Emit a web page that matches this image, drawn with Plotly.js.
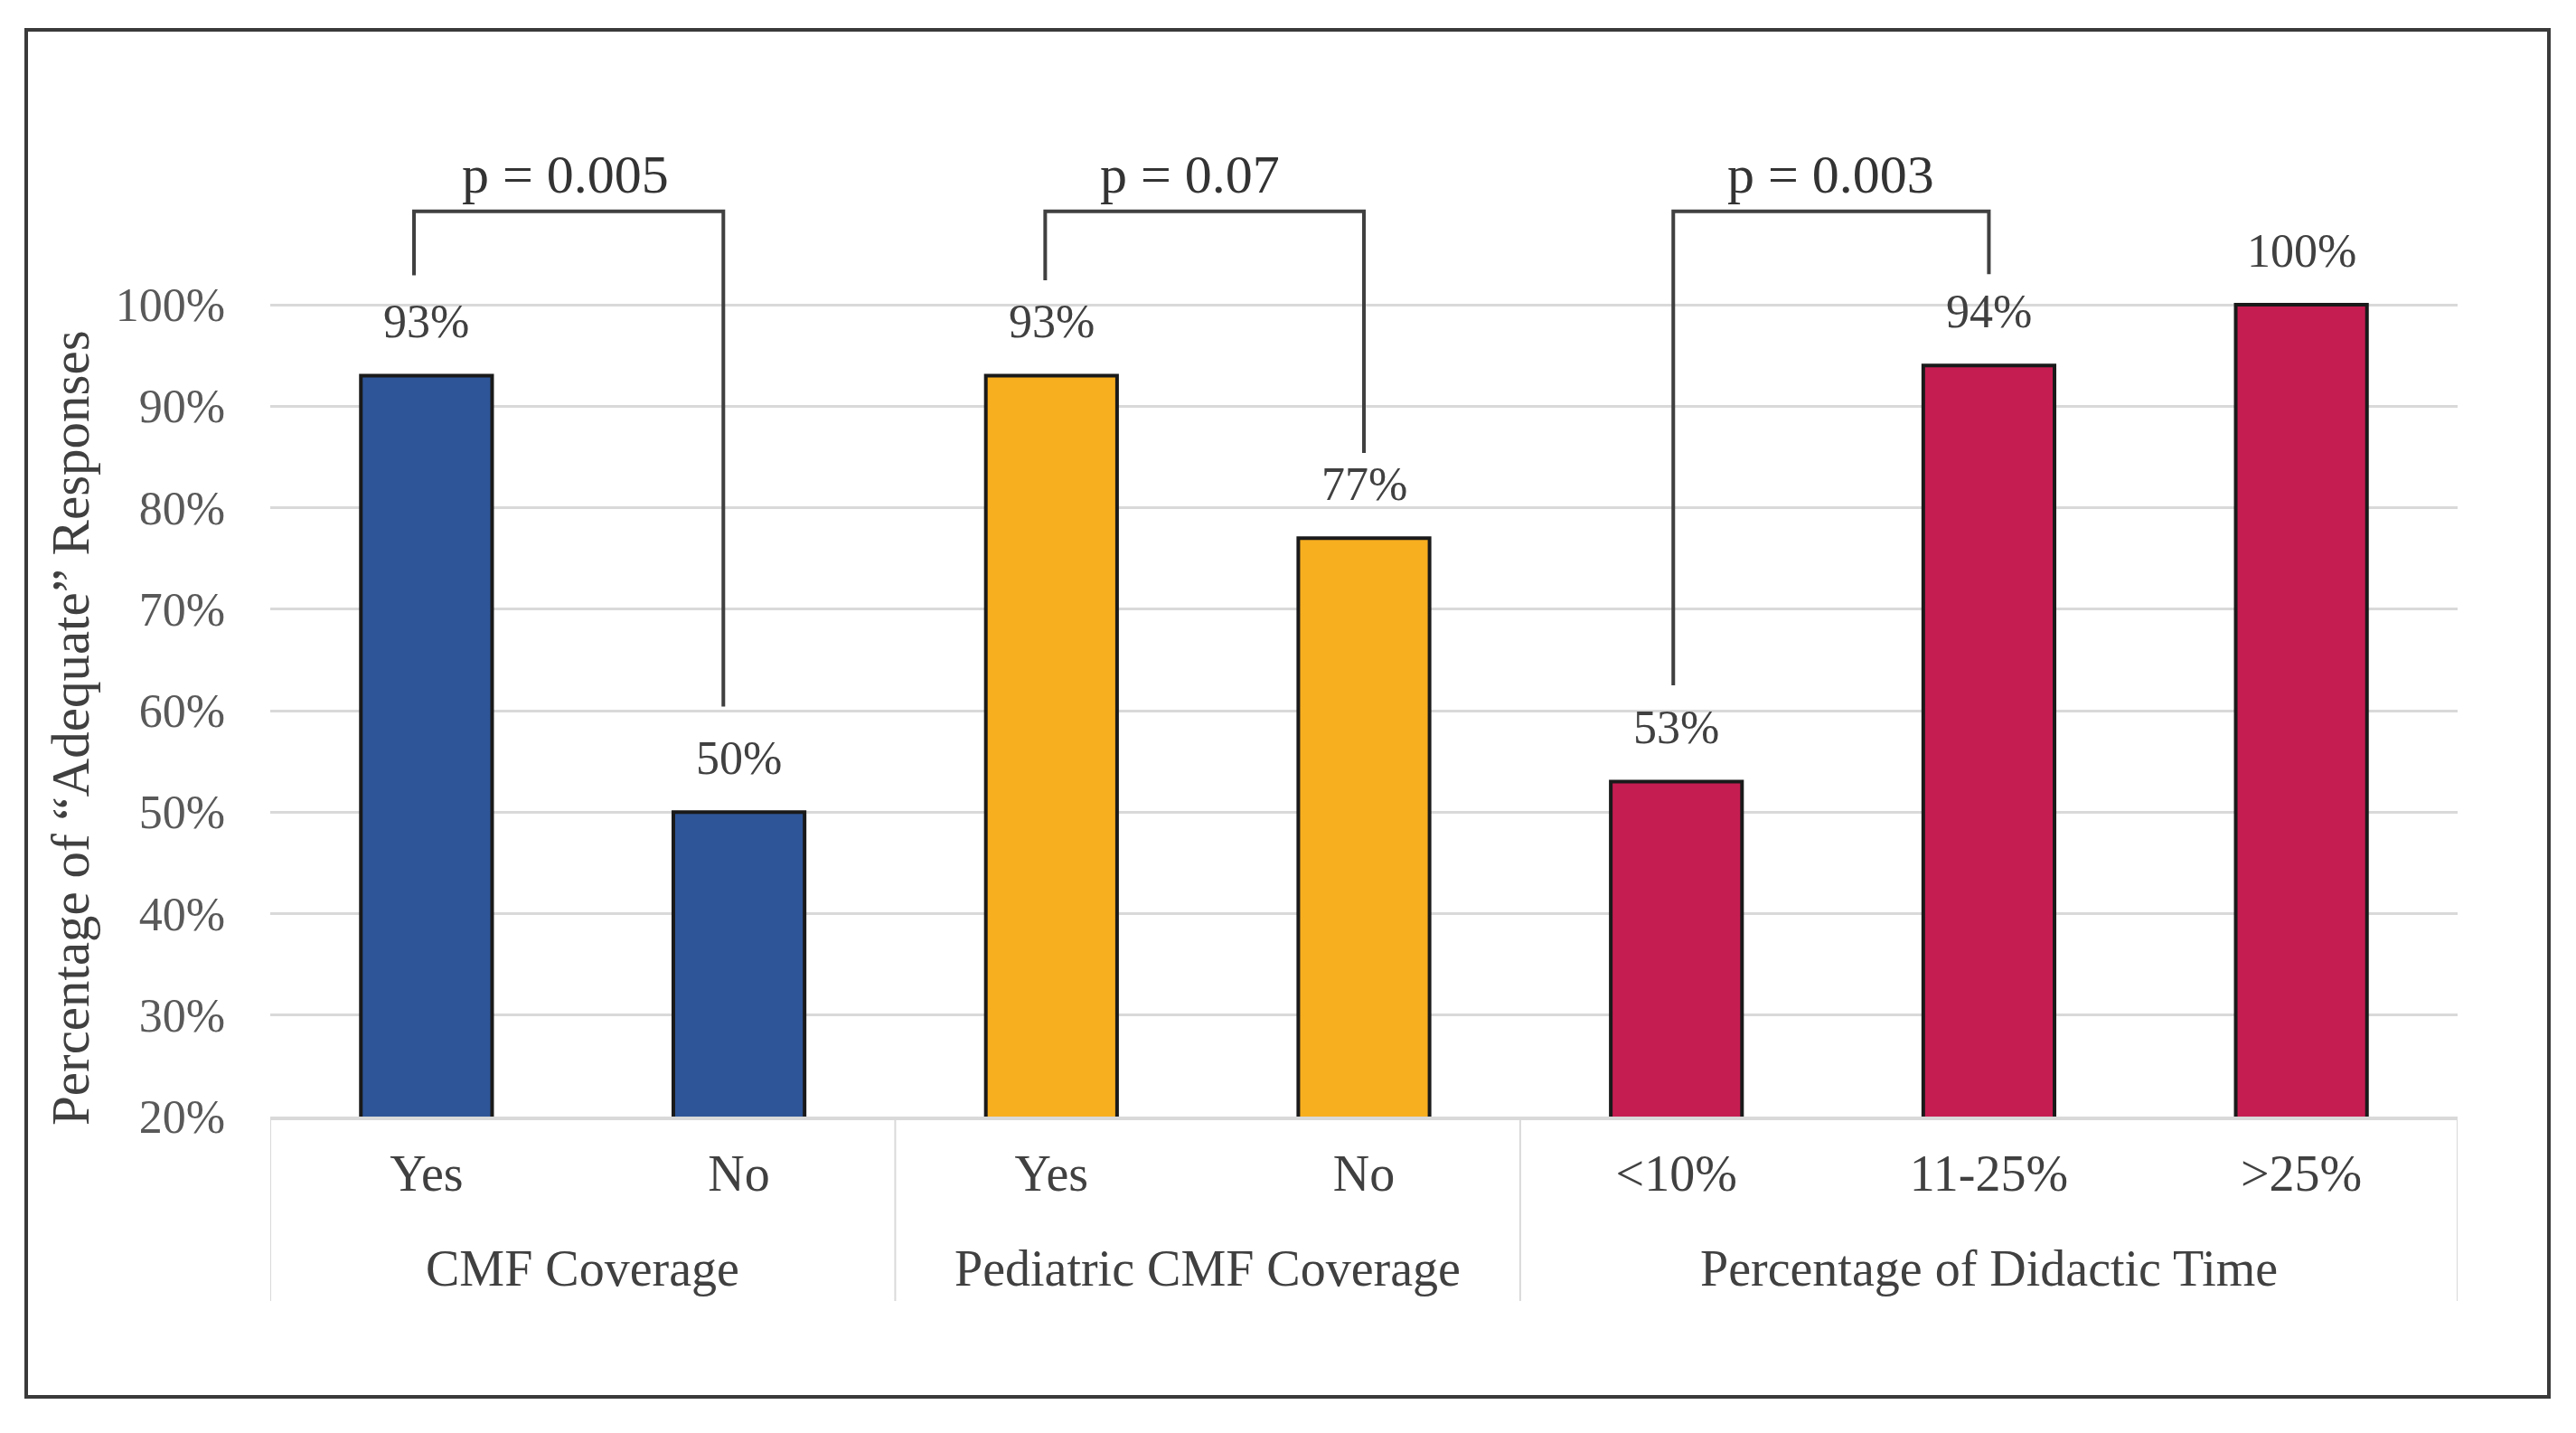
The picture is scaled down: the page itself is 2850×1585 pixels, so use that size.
<!DOCTYPE html>
<html><head><meta charset="utf-8">
<script src="https://cdn.plot.ly/plotly-3.0.1.min.js"></script>
<style>html,body{margin:0;padding:0;background:#fff;} #chart{width:2850px;height:1585px;}</style>
</head><body><div id="chart"></div>
<script>
// ---- data ----
const groupNames = ["CMF Coverage","Pediatric CMF Coverage","Percentage of Didactic Time"];
const groupOf = [0, 0, 1, 1, 2, 2, 2];
const subLabels = ["Yes","No","Yes","No","<10%","11-25%",">25%"];
const values = [93, 50, 93, 77, 53, 94, 100];
const valueLabels = ["93%","50%","93%","77%","53%","94%","100%"];
const yTickVals = [20,30,40,50,60,70,80,90,100];
const yTickText = ["20%","30%","40%","50%","60%","70%","80%","90%","100%"];
const yTitle = "Percentage of \u201CAdequate\u201D Responses";
const pLabels = ["p = 0.005","p = 0.07","p = 0.003"];
const pBracketX = [[-0.04, 0.95],[1.98, 3.0],[3.99, 5.0]];
const pLegEnds = [[102.9, 60.4],[102.4, 85.4],[62.5, 103.0]];
const pBracketTop = 109.2;
const pTextY = 112.8;

// ---- styles ----
const groupColors = ["#2E5597","#F7AE1F","#C51D52"];
const pTextShift = [-4, -16, 0];
const FONT = "Liberation Serif, Times New Roman, serif";
const GRID = "#D9D9D9";

const W = 2850, H = 1585;
const M = {l:299, r:131, t:80, b:350};
const pw = W - M.l - M.r, ph = H - M.t - M.b;
const px2x = X => (X - M.l)/pw;
const px2y = Y => (H - M.b - Y)/ph;

const xIdx = subLabels.map((_, i) => i);

const trace = {
  type: 'bar',
  x: xIdx,
  y: values,
  marker: {color: groupOf.map(g => groupColors[g]), line: {color: '#1a1a1a', width: 4}},
  hoverinfo: 'skip'
};

const annotations = values.map((v,i) => ({
  x: xIdx[i], y: v, xref: 'x', yref: 'y', text: valueLabels[i], showarrow: false,
  yanchor: 'middle', yshift: 60, font: {family: FONT, size: 52, color: '#404040'}
}));
const shapes = [];
pLabels.forEach((t,k) => {
  const [x0,x1] = pBracketX[k];
  const [e0,e1] = pLegEnds[k];
  shapes.push({type:'path', xref:'x', yref:'y',
    path: `M ${x0},${e0} L ${x0},${pBracketTop} L ${x1},${pBracketTop} L ${x1},${e1}`,
    line:{color:'#404040', width:4}});
  annotations.push({x:(x0+x1)/2, y:pTextY, xref:'x', yref:'y', text:t, showarrow:false,
    xshift: pTextShift[k], yanchor:'middle', font:{family:FONT, size:60, color:'#333333'}});
});

// group labels and dividers of the category axis
const dividerBottom = px2y(1439);
groupNames.forEach((name, g) => {
  const members = xIdx.filter(i => groupOf[i] === g);
  const lo = Math.min(...members) - 0.5, hi = Math.max(...members) + 0.5;
  annotations.push({x: (lo + hi)/2, y: px2y(1403), xref: 'x', yref: 'paper', text: name, showarrow: false,
    yanchor: 'middle', font: {family: FONT, size: 56, color: '#404040'}});
  if (g === 0) shapes.push({type:'line', xref:'x', yref:'paper', x0: lo, x1: lo, y0: 0, y1: dividerBottom, line:{color:GRID, width:2}});
  shapes.push({type:'line', xref:'x', yref:'paper', x0: hi, x1: hi, y0: 0, y1: dividerBottom, line:{color:GRID, width:2}});
});

// y-axis title
annotations.push({x: px2x(78), y: px2y(805), xref: 'paper', yref: 'paper', text: yTitle, textangle: -90,
  showarrow: false, xanchor: 'center', yanchor: 'middle', font: {family: FONT, size: 59, color: '#404040'}});

// outer frame
shapes.push({type:'rect', xref:'paper', yref:'paper', layer:'above',
  x0: px2x(29), x1: px2x(2820), y0: px2y(1545), y1: px2y(33),
  line:{color:'#3a3a3a', width:4}});

const layout = {
  width: W, height: H, margin: M,
  paper_bgcolor: '#ffffff', plot_bgcolor: '#ffffff',
  showlegend: false, bargap: 0.58,
  font: {family: FONT, color: '#404040'},
  xaxis: {
    range: [-0.5, 6.5], tickvals: xIdx, ticktext: subLabels,
    showgrid: false, showline: true, linecolor: GRID, linewidth: 4, zeroline: false,
    ticks: '', ticklabelstandoff: 11, tickfont: {family: FONT, size: 56, color: '#404040'}
  },
  yaxis: {
    range: [20, 20 + ph * 80/898], tickvals: yTickVals, ticktext: yTickText,
    showgrid: true, gridcolor: GRID, gridwidth: 3, zeroline: false, showline: false,
    ticks: '', ticklabelstandoff: 49, tickfont: {family: FONT, size: 52, color: '#595959'}
  },
  annotations: annotations,
  shapes: shapes
};

Plotly.newPlot('chart', [trace], layout, {staticPlot: true});
</script>
</body></html>
